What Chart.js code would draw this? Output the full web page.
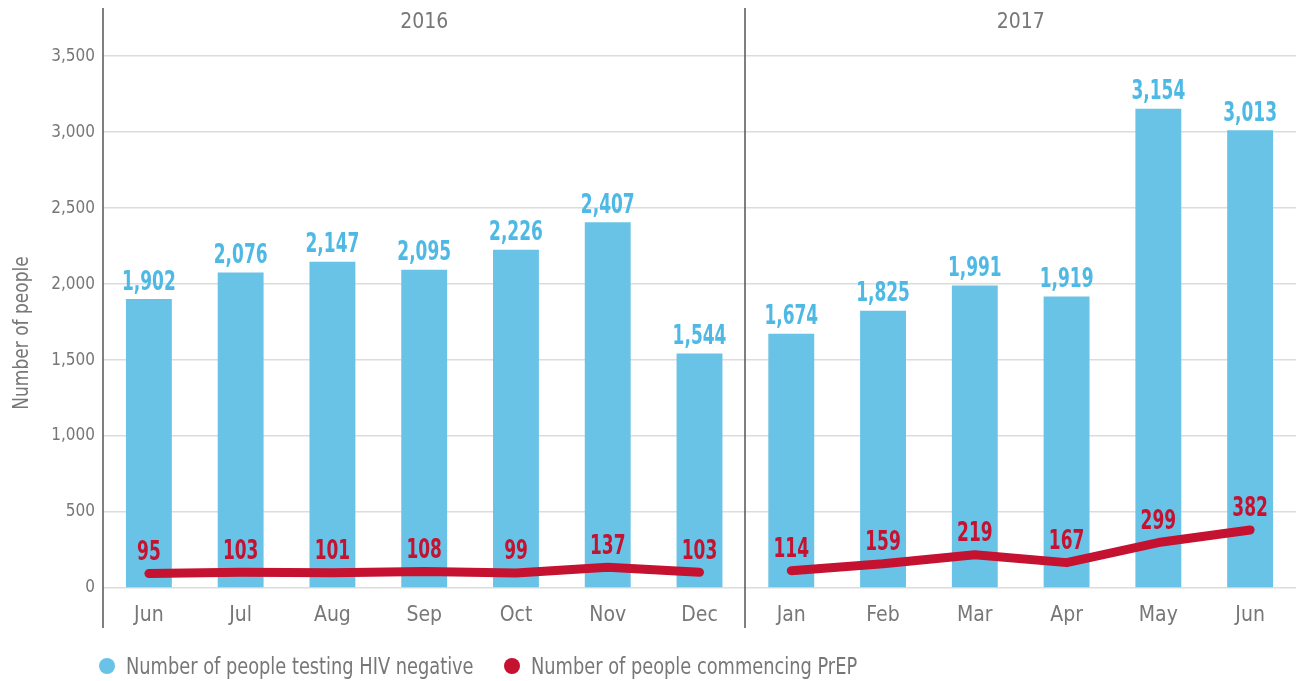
<!DOCTYPE html>
<html>
<head>
<meta charset="utf-8">
<script src="https://cdn.jsdelivr.net/npm/chart.js@4.4.1/dist/chart.umd.min.js"></script>
<style>
  html, body { margin: 0; padding: 0; background: #fff; }
  #wrap { position: relative; width: 1296px; height: 681px; }
  #legend { position: absolute; left: 0; top: 653px; width: 1296px; height: 26px; font-family: "DejaVu Sans Condensed", sans-serif; font-size: 23px; color: #777; }
  .item { position: absolute; top: 0; height: 26px; display: flex; align-items: center; white-space: nowrap; }
  .dot { width: 16px; height: 16px; border-radius: 50%; margin-right: 11px; flex: none; }
  .txt { display: inline-block; transform: scaleX(0.86); transform-origin: left center; }
</style>
</head>
<body>
<div id="wrap">
  <canvas id="chart" width="1296" height="681"></canvas>
  <div id="legend"></div>
</div>
<script>
// data
const months = ['Jun', 'Jul', 'Aug', 'Sep', 'Oct', 'Nov', 'Dec', 'Jan', 'Feb', 'Mar', 'Apr', 'May', 'Jun'];
const years = ['2016', '2017'];
const monthsPerYear = [7, 6];
const testingNegative = [1902, 2076, 2147, 2095, 2226, 2407, 1544, 1674, 1825, 1991, 1919, 3154, 3013];
const commencingPrep = [95, 103, 101, 108, 99, 137, 103, 114, 159, 219, 167, 299, 382];
const yTicks = [0, 500, 1000, 1500, 2000, 2500, 3000, 3500];

const BLUE = '#69c3e6';
const BLUE_TEXT = '#4db9e4';
const RED = '#c41230';
const GREY = '#777';
const FONT = '"DejaVu Sans Condensed", sans-serif';

// squeezed text, the original font is much narrower
function narrowText(ctx, text, x, y, sx) {
  ctx.save();
  ctx.translate(x, y);
  ctx.scale(sx, 1);
  ctx.fillText(text, 0, 0);
  ctx.restore();
}

// labels + separators
const extras = {
  id: 'extras',
  afterDatasetsDraw(chart) {
    const ctx = chart.ctx;
    const area = chart.chartArea;
    const x = chart.scales.x;

    // value labels
    ctx.save();
    ctx.textAlign = 'center';
    ctx.textBaseline = 'bottom';
    ctx.font = 'bold 27px ' + FONT;
    chart.getDatasetMeta(1).data.forEach((bar, i) => {
      ctx.fillStyle = BLUE_TEXT;
      narrowText(ctx, testingNegative[i].toLocaleString('en-US'), bar.x, bar.y - 3, 0.7);
    });
    chart.getDatasetMeta(0).data.forEach((pt, i) => {
      ctx.fillStyle = RED;
      narrowText(ctx, String(commencingPrep[i]), pt.x, pt.y - 7, 0.7);
    });

    // axis title
    ctx.fillStyle = GREY;
    ctx.font = '22px ' + FONT;
    ctx.textBaseline = 'middle';
    ctx.save();
    ctx.translate(22, 333);
    ctx.rotate(-Math.PI / 2);
    ctx.scale(0.86, 1);
    ctx.fillText('Number of people', 0, 0);
    ctx.restore();

    // axis + year divider
    ctx.strokeStyle = '#555';
    ctx.lineWidth = 1.5;
    const top = 8;
    const bottom = 628;
    ctx.beginPath();
    ctx.moveTo(area.left, top);
    ctx.lineTo(area.left, bottom);
    ctx.stroke();
    let idx = 0;
    const step = x.getPixelForValue(1) - x.getPixelForValue(0);
    years.forEach((yr, k) => {
      const first = x.getPixelForValue(idx);
      const last = x.getPixelForValue(idx + monthsPerYear[k] - 1);
      ctx.fillStyle = GREY;
      ctx.font = '21px ' + FONT;
      ctx.fillText(yr, (first + last) / 2, 23);
      idx += monthsPerYear[k];
      if (k < years.length - 1) {
        const sx = Math.round(last + step / 2);
        ctx.beginPath();
        ctx.moveTo(sx, top);
        ctx.lineTo(sx, bottom);
        ctx.stroke();
      }
    });
    ctx.restore();
  }
};

const chart = new Chart(document.getElementById('chart'), {
  type: 'bar',
  data: {
    labels: months,
    datasets: [
      {
        type: 'line',
        label: 'Number of people commencing PrEP',
        data: commencingPrep,
        borderColor: RED,
        backgroundColor: RED,
        borderWidth: 9,
        borderCapStyle: 'round',
        borderJoinStyle: 'round',
        pointRadius: 0,
        tension: 0,
        order: 0,
        segment: {
          borderColor: c => c.p0DataIndex === monthsPerYear[0] - 1 ? 'transparent' : RED
        }
      },
      {
        label: 'Number of people testing HIV negative',
        data: testingNegative,
        backgroundColor: BLUE,
        barPercentage: 0.5,
        categoryPercentage: 1,
        order: 1
      }
    ]
  },
  options: {
    responsive: false,
    animation: false,
    layout: { padding: { top: 0, right: 0, left: 0, bottom: 0 } },
    plugins: {
      legend: { display: false },
      tooltip: { enabled: false }
    },
    scales: {
      x: {
        grid: { display: false },
        border: { display: false },
        ticks: { color: GREY, font: { family: FONT, size: 21 }, padding: 7, maxRotation: 0 },
        afterFit(s) { s.height = 93; }
      },
      y: {
        min: 0,
        max: 3750,
        afterBuildTicks(s) { s.ticks = yTicks.map(v => ({ value: v })); },
        grid: { color: '#dcdcdc', lineWidth: 1.5, drawTicks: false },
        border: { display: false },
        ticks: {
          color: GREY,
          font: { family: FONT, size: 17 },
          padding: 8,
          callback: v => v.toLocaleString('en-US')
        },
        afterFit(s) { s.width = 103; }
      }
    }
  },
  plugins: [extras]
});

// legend
const legend = document.getElementById('legend');
const legendItems = [
  { ds: chart.data.datasets[1], left: 99 },
  { ds: chart.data.datasets[0], left: 504 }
];
legendItems.forEach(({ ds, left }) => {
  const item = document.createElement('div');
  item.className = 'item';
  item.style.left = left + 'px';
  item.innerHTML = `<span class="dot" style="background:${ds.backgroundColor}"></span><span class="txt">${ds.label}</span>`;
  legend.appendChild(item);
});
</script>
</body>
</html>
